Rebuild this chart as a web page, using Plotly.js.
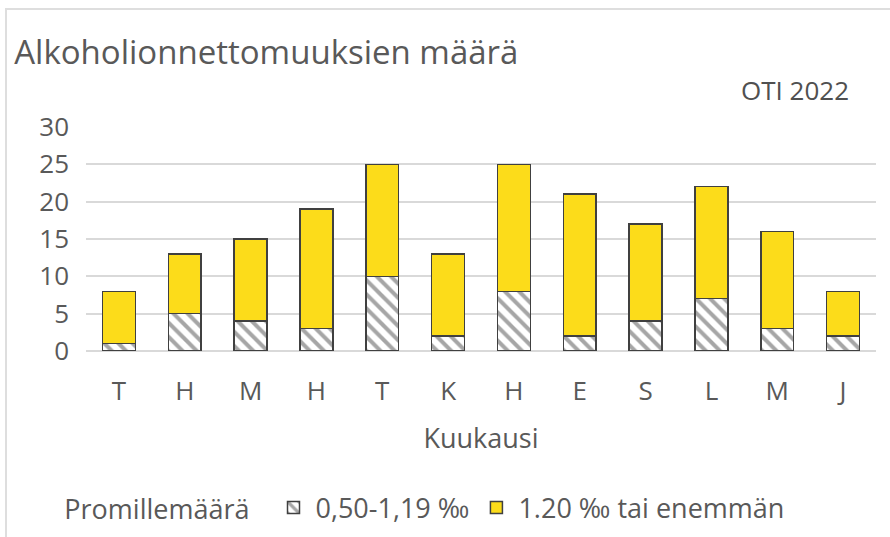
<!DOCTYPE html>
<html><head><meta charset="utf-8">
<script src="https://cdn.plot.ly/plotly-3.0.1.min.js"></script>
<style>html,body{margin:0;padding:0;background:#fff;}#wrap{position:relative;width:890px;height:537px;}#chart{width:890px;height:537px;}#frame{position:absolute;left:5px;top:8px;width:890px;height:540px;border:2px solid #dedede;box-sizing:border-box;pointer-events:none;}</style>
</head><body><div id="wrap"><div id="chart"></div><div id="frame"></div></div>
<script>
const months = ["T","H","M","H","T","K","H","E","S","L","M","J"];
const low = [1,5,4,3,10,2,8,2,4,7,3,2];          // 0,50-1,19 ‰
const high = [7,8,11,16,15,11,17,19,13,15,13,6]; // 1.20 ‰ tai enemmän
const seriesNames = ["0,50-1,19 ‰","1.20 ‰ tai enemmän"];
const idx = months.map((_, i) => i);
const font = "Open Sans, Noto Sans, sans-serif";
const txt = "#595959";
const traces = [
  {type:"bar", x:idx, y:low, name:seriesNames[0], width:0.5,
   marker:{color:"#ffffff", line:{color:"#404040", width:1.5},
     pattern:{shape:"\\", fgcolor:"#a6a6a6", bgcolor:"#ffffff", size:10, solidity:0.4}}},
  {type:"bar", x:idx, y:high, name:seriesNames[1], width:0.5,
   marker:{color:"#fcdc1a", line:{color:"#404040", width:1.5}}}
];
const layout = {
  width:890, height:537, barmode:"stack", bargap:0.5,
  margin:{l:86, r:14, t:127, b:186},
  paper_bgcolor:"#fff", plot_bgcolor:"#fff",
  font:{family:font, color:txt, size:26},
  title:{text:"Alkoholionnettomuuksien määrä", x:0.016, xanchor:"left", y:0.903, yanchor:"middle", font:{size:33, color:txt, family:font}},
  xaxis:{tickvals:idx, ticktext:months, range:[-0.5,11.5], automargin:false, showgrid:false, showline:false, zeroline:false, ticks:"", tickfont:{size:26, color:txt}, ticklabelstandoff:22,
    title:{text:"Kuukausi", font:{size:27, color:txt}, standoff:22}},
  yaxis:{range:[0,30], dtick:5, automargin:false, showgrid:true, gridcolor:"#d9d9d9", gridwidth:2, zeroline:true, zerolinecolor:"#d9d9d9", zerolinewidth:2, showline:false, ticks:"", tickfont:{size:26, color:txt}, ticklabelstandoff:16},
  showlegend:true,
  legend:{orientation:"h", xref:"container", yref:"container", x:0.07, xanchor:"left", y:0.054, yanchor:"middle", font:{size:27, color:txt}, title:{text:"Promillemäärä  ", font:{size:27, color:txt}}, itemwidth:34, traceorder:"normal"},
  annotations:[{text:"OTI 2022", xref:"paper", yref:"paper", x:0.968, y:1.165, xanchor:"right", yanchor:"middle", showarrow:false, font:{size:26, color:"#505050"}}]
};
Plotly.newPlot("chart", traces, layout, {displayModeBar:false, staticPlot:true});
</script></body></html>
